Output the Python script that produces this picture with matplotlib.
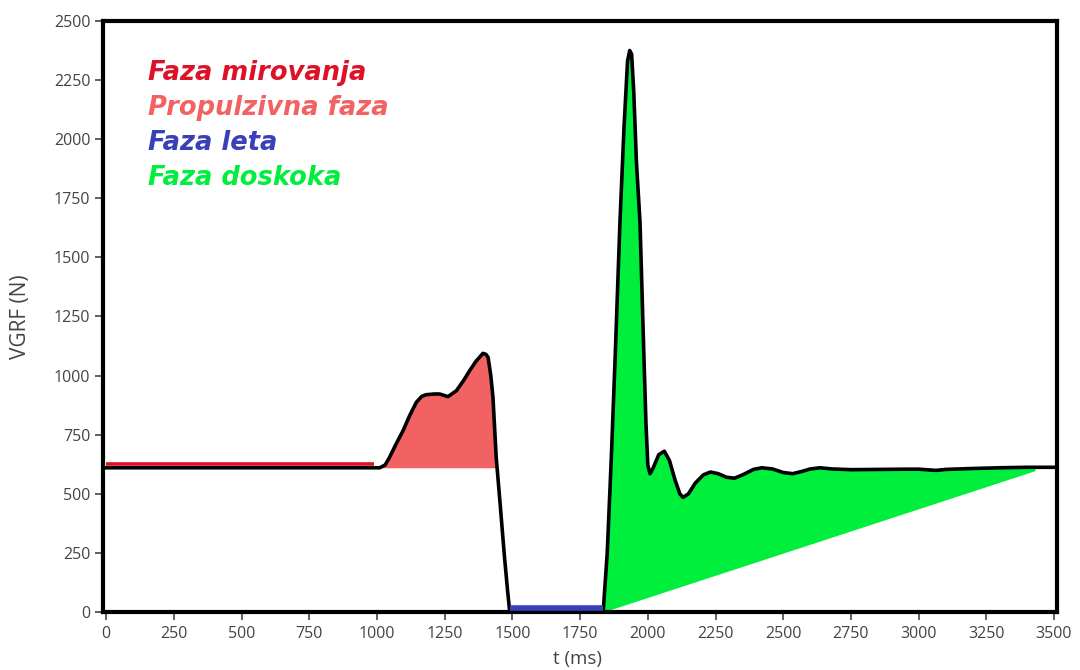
import numpy as np
import matplotlib
matplotlib.use("Agg")
import matplotlib.pyplot as plt

# Vertical ground reaction force during a countermovement jump
t_ms = [0, 1010, 1030, 1046, 1070, 1096, 1120, 1145, 1165, 1181, 1210, 1231,
        1262, 1293, 1320, 1342, 1365, 1391, 1402, 1410, 1420, 1428, 1440,
        1455, 1470, 1482, 1490, 1835, 1850, 1865, 1880, 1897, 1912, 1925,
        1933, 1940, 1948, 1958, 1971, 1985, 1993, 2000, 2008, 2020, 2040,
        2061, 2080, 2100, 2118, 2130, 2150, 2175, 2205, 2231, 2260, 2290,
        2320, 2350, 2390, 2421, 2460, 2500, 2535, 2570, 2600, 2636, 2680,
        2750, 2850, 2950, 3000, 3065, 3100, 3200, 3300, 3400, 3510]
vgrf_n = [610, 610, 622, 654, 710, 767, 830, 887, 912, 919, 922, 922,
          911, 936, 980, 1021, 1060, 1094, 1090, 1077, 1000, 908, 654,
          450, 240, 90, 0, 0, 250, 650, 1100, 1650, 2050, 2330,
          2375, 2360, 2200, 1900, 1650, 1100, 800, 620, 585, 610, 665,
          680, 640, 560, 500, 485, 500, 545, 580, 592, 585, 570,
          566, 580, 603, 610, 605, 590, 585, 595, 605, 610, 605,
          602, 603, 604, 604, 599, 603, 607, 610, 612, 612]

# Phase boundaries (ms) and reference levels (N)
quiet_end = 990
push_start, push_end = 1015, 1442
flight_start, flight_end = 1490, 1835
landing_end = 3430
body_weight = 610
landing_end_force = 598

phase_names = ["Faza mirovanja", "Propulzivna faza", "Faza leta", "Faza doskoka"]
phase_colors = ["#dc1229", "#f26262", "#3a3fba", "#00ee3c"]

t = np.array(t_ms, dtype=float)
f = np.array(vgrf_n, dtype=float)

fig = plt.figure(figsize=(10.8, 6.7), dpi=100)
ax = fig.add_axes([0.0954, 0.0866, 0.8833, 0.8821])

# Propulsive phase: area above body weight
mask_p = (t >= push_start) & (t <= push_end)
tp = np.concatenate([[push_start], t[mask_p], [push_end]])
fp = np.interp(tp, t, f)
ax.fill_between(tp, body_weight, fp, color=phase_colors[1], lw=0, zorder=1)

# Landing phase: area between curve and a line rising to body weight
mask_l = (t >= flight_end) & (t <= landing_end)
tl = np.concatenate([t[mask_l], [landing_end]])
fl = np.interp(tl, t, f)
lower = np.interp(tl, [flight_end, landing_end], [0, landing_end_force])
ax.fill_between(tl, lower, fl, color=phase_colors[3], lw=0, zorder=1)

# Force trace
ax.plot(t, f, color="black", lw=2.6, zorder=3, solid_joinstyle="round")

# Quiet standing and flight markers
ax.plot([0, quiet_end], [body_weight + 14, body_weight + 14],
        color=phase_colors[0], lw=2.6, zorder=4, solid_capstyle="butt")
ax.plot([flight_start, flight_end], [18, 18],
        color=phase_colors[2], lw=4.0, zorder=4, solid_capstyle="butt")

ax.set_xlim(-12, 3511)
ax.set_ylim(0, 2500)
ax.set_xticks(np.arange(0, 3501, 250))
ax.set_yticks(np.arange(0, 2501, 250))

tick_color = "#444444"
for side in ["left", "bottom", "right", "top"]:
    ax.spines[side].set_linewidth(3.0)
    ax.spines[side].set_color("black")
ax.tick_params(axis="both", colors=tick_color, labelsize=11.5, length=6,
               width=1.2, direction="out")
ax.tick_params(axis="y", pad=3)
ax.tick_params(axis="x", pad=4)
for lbl in ax.get_xticklabels() + ax.get_yticklabels():
    lbl.set_fontfamily("Open Sans")

ax.set_xlabel("t (ms)", fontsize=13.5, color=tick_color, family="Open Sans",
              va="top")
ax.set_ylabel("VGRF (N)", fontsize=15, color=tick_color, family="Open Sans",
              va="center")
ax.xaxis.set_label_coords(0.497, -0.064)
ax.yaxis.set_label_coords(-0.087, 0.5)

# Phase legend as coloured text
y_pos = [0.900, 0.841, 0.782, 0.722]
for name, col, yy in zip(phase_names, phase_colors, y_pos):
    ax.text(0.047, yy, name, transform=ax.transAxes, color=col,
            fontsize=18.5, fontweight="bold", fontstyle="oblique",
            family="DejaVu Sans", va="baseline", ha="left", zorder=5)

fig.savefig("out.png", dpi=100)
